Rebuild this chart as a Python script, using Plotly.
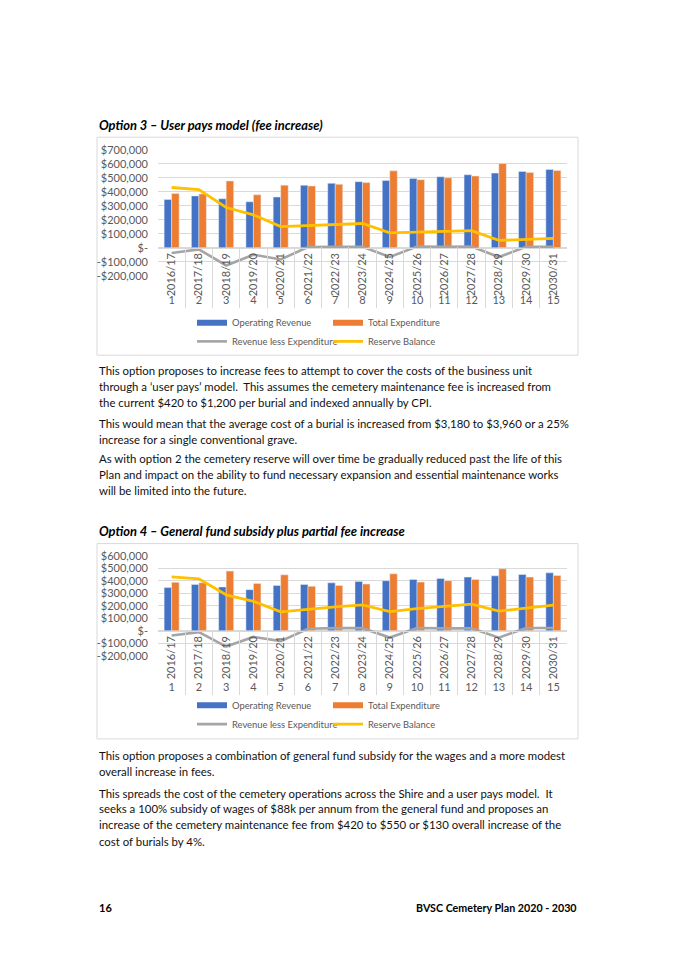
import plotly.graph_objects as go

# ---------------- data ----------------
years = ["2016/17", "2017/18", "2018/19", "2019/20", "2020/21", "2021/22", "2022/23", "2023/24",
         "2024/25", "2025/26", "2026/27", "2027/28", "2028/29", "2029/30", "2030/31"]
year_nums = [str(i) for i in range(1, 16)]

opt3_revenue = [345000, 370000, 350000, 328000, 362000, 446000, 460000, 472000,
                481000, 495000, 507000, 521000, 533000, 545000, 559000]
opt3_expenditure = [387000, 384000, 477000, 378000, 447000, 441000, 453000, 465000,
                    549000, 486000, 500000, 512000, 601000, 538000, 552000]
opt3_rev_less_exp = [-38000, -12000, -127000, -50000, -84000, 5000, 6000, 6000,
                     -66000, 8000, 7000, 8000, -67000, 7000, 7000]
opt3_reserve = [430000, 415000, 287000, 235000, 151000, 158000, 166000, 173000,
                106000, 111000, 116000, 122000, 52000, 60000, 66000]

opt4_revenue = [345000, 370000, 350000, 328000, 362000, 370000, 383000, 394000,
                400000, 410000, 418000, 429000, 439000, 450000, 463000]
opt4_expenditure = [387000, 384000, 477000, 378000, 447000, 355000, 362000, 373000,
                    455000, 389000, 400000, 410000, 495000, 429000, 442000]
opt4_rev_less_exp = [-38000, -12000, -127000, -50000, -84000, 15000, 20000, 20000,
                     -55000, 21000, 18000, 19000, -56000, 21000, 21000]
opt4_reserve = [430000, 415000, 287000, 235000, 151000, 172000, 190000, 207000,
                153000, 176000, 192000, 212000, 157000, 183000, 204000]

series_names = ["Operating Revenue", "Total Expenditure", "Revenue less Expenditure", "Reserve Balance"]

y1_tickvals = [700000, 600000, 500000, 400000, 300000, 200000, 100000, 0, -100000, -200000]
y1_ticktext = ["$700,000", "$600,000", "$500,000", "$400,000", "$300,000", "$200,000",
               "$100,000", "$-", "-$100,000", "-$200,000"]
y2_tickvals = [600000, 500000, 400000, 300000, 200000, 100000, 0, -100000, -200000]
y2_ticktext = ["$600,000", "$500,000", "$400,000", "$300,000", "$200,000",
               "$100,000", "$-", "-$100,000", "-$200,000"]

title3 = "Option 3 – User pays model (fee increase)"
title4 = "Option 4 – General fund subsidy plus partial fee increase"
text3 = [
    "This option proposes to increase fees to attempt to cover the costs of the business unit",
    "through a ‘user pays’ model.&nbsp; This assumes the cemetery maintenance fee is increased from",
    "the current $420 to $1,200 per burial and indexed annually by CPI.",
    "This would mean that the average cost of a burial is increased from $3,180 to $3,960 or a 25%",
    "increase for a single conventional grave.",
    "As with option 2 the cemetery reserve will over time be gradually reduced past the life of this",
    "Plan and impact on the ability to fund necessary expansion and essential maintenance works",
    "will be limited into the future.",
]
text4 = [
    "This option proposes a combination of general fund subsidy for the wages and a more modest",
    "overall increase in fees.",
    "This spreads the cost of the cemetery operations across the Shire and a user pays model.&nbsp; It",
    "seeks a 100% subsidy of wages of $88k per annum from the general fund and proposes an",
    "increase of the cemetery maintenance fee from $420 to $550 or $130 overall increase of the",
    "cost of burials by 4%.",
]

# ---------------- layout helpers ----------------
W, H = 675, 955
def fx(px):
    return px / W
def fy(py):
    return 1 - py / H

BLUE, ORANGE, GREY, YELLOW = "#4472C4", "#ED7D31", "#A5A5A5", "#FFC000"
GRID = "#D9D9D9"
AXTXT = "#595959"
BODY_FONT = "Lato"

fig = go.Figure()

charts = [
    dict(rev=opt3_revenue, exp=opt3_expenditure, rle=opt3_rev_less_exp, res=opt3_reserve,
         xa="x", ya="y", xnum="x3", xsep="x5", legends=["legend", "legend2", "legend3", "legend4"]),
    dict(rev=opt4_revenue, exp=opt4_expenditure, rle=opt4_rev_less_exp, res=opt4_reserve,
         xa="x2", ya="y2", xnum="x4", xsep="x6", legends=["legend5", "legend6", "legend7", "legend8"]),
]

idx = list(range(len(years)))
empty = [None] * len(years)
for c in charts:
    fig.add_trace(go.Bar(x=years, y=c["rev"], name=series_names[0], marker_color=BLUE,
                         xaxis=c["xa"], yaxis=c["ya"], showlegend=False))
    fig.add_trace(go.Bar(x=years, y=c["exp"], name=series_names[1], marker_color=ORANGE,
                         xaxis=c["xa"], yaxis=c["ya"], showlegend=False))
    fig.add_trace(go.Scatter(x=years, y=c["rle"], name=series_names[2], mode="lines",
                             line=dict(color=GREY, width=2.6),
                             xaxis=c["xa"], yaxis=c["ya"], legend=c["legends"][2]))
    fig.add_trace(go.Scatter(x=years, y=c["res"], name=series_names[3], mode="lines",
                             line=dict(color=YELLOW, width=2.8),
                             xaxis=c["xa"], yaxis=c["ya"], legend=c["legends"][3]))
    # legend entries for the bar series drawn as flat wide swatches (Excel style)
    for name, col, lg in ((series_names[0], BLUE, c["legends"][0]),
                          (series_names[1], ORANGE, c["legends"][1])):
        fig.add_trace(go.Scatter(x=years, y=empty, name=name, mode="lines",
                                 line=dict(color=col, width=6), xaxis=c["xa"], yaxis=c["ya"],
                                 legend=lg, hoverinfo="skip"))
    # empty helper traces so the number-row axis and separator axis are drawn
    for xa in (c["xnum"], c["xsep"]):
        fig.add_trace(go.Scatter(x=idx, y=empty, mode="lines", xaxis=xa,
                                 yaxis=c["ya"], showlegend=False, hoverinfo="skip"))

# plot areas (pixel geometry of the page)
p1 = dict(x0=158, x1=567, top=144.7, bottom=272.4, rmin=-200000, rmax=700000, sep_end=305, num_y=289)
p2 = dict(x0=158, x1=567, top=556.3, bottom=657.6, rmin=-200000, rmax=600000, sep_end=697, num_y=681)

def zero_pos(p):
    d0, d1 = fy(p["bottom"]), fy(p["top"])
    return d0 + (0 - p["rmin"]) / (p["rmax"] - p["rmin"]) * (d1 - d0)

def zero_px(p):
    return p["bottom"] - (0 - p["rmin"]) / (p["rmax"] - p["rmin"]) * (p["bottom"] - p["top"])

tickfont = dict(family=BODY_FONT, size=11, color=AXTXT)
xrange_idx = [-0.5, len(years) - 0.5]

def xaxis_cfg(p):
    return dict(type="category", domain=[fx(p["x0"]), fx(p["x1"])], anchor="free",
                position=zero_pos(p), side="bottom", showgrid=False, showline=True,
                linecolor=GRID, linewidth=1, ticks="", tickangle=-90,
                tickfont=tickfont, fixedrange=True)

def numaxis_cfg(p, over):
    return dict(type="linear", overlaying=over, domain=[fx(p["x0"]), fx(p["x1"])],
                anchor="free", position=fy(p["num_y"]), side="bottom",
                range=xrange_idx, tickmode="array", tickvals=idx, ticktext=year_nums,
                showgrid=False, showline=False, zeroline=False, ticks="",
                tickfont=tickfont, fixedrange=True)

def sepaxis_cfg(p, over):
    boundaries = [i - 0.5 for i in range(len(years) + 1)]
    return dict(type="linear", overlaying=over, domain=[fx(p["x0"]), fx(p["x1"])],
                anchor="free", position=fy(p["sep_end"]), side="bottom",
                range=xrange_idx, tickmode="array", tickvals=boundaries,
                ticks="inside", ticklen=p["sep_end"] - zero_px(p), tickcolor=GRID,
                tickwidth=1, showticklabels=False, showgrid=False, showline=False,
                zeroline=False, fixedrange=True)

def yaxis_cfg(p, xa, tv, tt):
    return dict(domain=[fy(p["bottom"]), fy(p["top"])], range=[p["rmin"], p["rmax"]],
                anchor=xa, tickvals=tv, ticktext=tt, showgrid=True, gridcolor=GRID,
                gridwidth=1, zeroline=False, showline=False, ticks="",
                ticklabelstandoff=9, tickfont=dict(family=BODY_FONT, size=11, color=AXTXT),
                fixedrange=True)

legend_base = dict(xanchor="left", yanchor="middle", orientation="h",
                   bgcolor="rgba(0,0,0,0)", borderwidth=0,
                   font=dict(family=BODY_FONT, size=9.4, color=AXTXT))

def leg(text_x, row_y):
    d = dict(legend_base)
    d.update(x=fx(text_x - 40), y=fy(row_y))
    return d

layout_legends = {
    "legend": leg(232, 320), "legend2": leg(368, 320),
    "legend3": leg(232, 339), "legend4": leg(368, 339),
    "legend5": leg(232, 708), "legend6": leg(368, 708),
    "legend7": leg(232, 727), "legend8": leg(368, 727),
}

annotations = []
def add_text(txt, x, y, size=11.4, color="#111111", xanchor="left", family=BODY_FONT):
    annotations.append(dict(text=txt, x=fx(x), y=fy(y), xref="paper", yref="paper",
                            xanchor=xanchor, yanchor="middle", showarrow=False,
                            font=dict(family=family, size=size, color=color)))

add_text("<b><i>" + title3 + "</i></b>", 97, 120, size=12.9, color="#000000")
add_text("<b><i>" + title4 + "</i></b>", 97, 531, size=12.9, color="#000000")

for txt, y in zip(text3, [369, 385, 401, 422, 438, 458, 474, 490]):
    add_text(txt, 97, y)
for txt, y in zip(text4, [759, 775, 797, 813, 829, 846]):
    add_text(txt, 97, y)

add_text("<b>16</b>", 97, 913, size=11, color="#000000")
add_text("<b>BVSC Cemetery Plan 2020 - 2030</b>", 579, 913, size=10.7, color="#000000",
         xanchor="right")

shapes = [
    dict(type="rect", xref="paper", yref="paper", x0=fx(97), x1=fx(578), y0=fy(353), y1=fy(132),
         line=dict(color=GRID, width=1), fillcolor="rgba(0,0,0,0)", layer="below"),
    dict(type="rect", xref="paper", yref="paper", x0=fx(97), x1=fx(578), y0=fy(742), y1=fy(544),
         line=dict(color=GRID, width=1), fillcolor="rgba(0,0,0,0)", layer="below"),
]

fig.update_layout(
    width=W, height=H, margin=dict(l=0, r=0, t=0, b=0),
    paper_bgcolor="white", plot_bgcolor="white",
    barmode="group", bargap=0.45, bargroupgap=0.0,
    xaxis=xaxis_cfg(p1), xaxis2=xaxis_cfg(p2),
    xaxis3=numaxis_cfg(p1, "x"), xaxis4=numaxis_cfg(p2, "x2"),
    xaxis5=sepaxis_cfg(p1, "x"), xaxis6=sepaxis_cfg(p2, "x2"),
    yaxis=yaxis_cfg(p1, "x", y1_tickvals, y1_ticktext),
    yaxis2=yaxis_cfg(p2, "x2", y2_tickvals, y2_ticktext),
    annotations=annotations, shapes=shapes,
    showlegend=True,
    **layout_legends,
)

# page has no body margin so the figure fills the 675x955 window exactly
fig.write_html("out.html", config={"displayModeBar": False},
               post_script="document.body.style.margin='0';document.body.style.overflow='hidden';")
